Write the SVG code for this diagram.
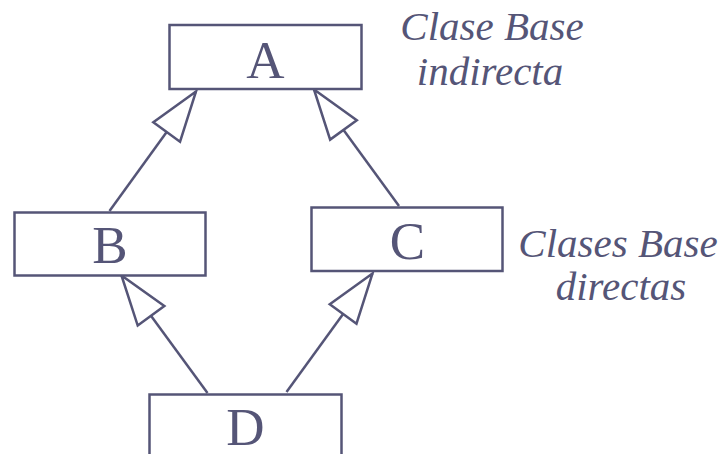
<svg xmlns="http://www.w3.org/2000/svg" width="727" height="454" viewBox="0 0 727 454">
<style>
.box{fill:#fff;stroke:#555577;stroke-width:2.5}
.lbl{font-family:'Liberation Serif','Times New Roman',serif;font-size:53px;fill:#555577;text-anchor:middle}
.note{font-family:'Liberation Serif','Times New Roman',serif;font-size:41px;font-style:italic;fill:#555577;text-anchor:middle}
.edge{stroke:#555577;stroke-width:2.5;fill:none;marker-end:url(#tri)}
</style>
<defs>
<marker id="tri" markerUnits="userSpaceOnUse" markerWidth="60" markerHeight="44" viewBox="-55 -22 60 44" refX="0" refY="0" orient="auto" overflow="visible">
<path d="M0,0 L-50,-16.5 L-50,16.5 Z" fill="#fff" stroke="#555577" stroke-width="2.5" stroke-linejoin="miter"/>
</marker>
</defs>
<rect width="727" height="454" fill="#fff"/>
<g id="connectors">
<line class="edge" x1="109.5" y1="211" x2="196" y2="91.5"/>
<line class="edge" x1="399" y1="206" x2="314" y2="89.5"/>
<line class="edge" x1="207.5" y1="393" x2="121.5" y2="275.5"/>
<line class="edge" x1="286.5" y1="392" x2="372.5" y2="273.5"/>
</g>
<g id="A">
<rect class="box" x="169.5" y="25" width="192" height="64"/>
<text class="lbl" x="265.5" y="77.5">A</text>
</g>
<g id="B">
<rect class="box" x="14.5" y="212.5" width="191" height="63"/>
<text class="lbl" x="110" y="263">B</text>
</g>
<g id="C">
<rect class="box" x="311.5" y="207.5" width="191" height="63.5"/>
<text class="lbl" x="407.5" y="258.5">C</text>
</g>
<g id="D">
<rect class="box" x="149.5" y="394.5" width="192" height="64"/>
<text class="lbl" x="245.5" y="445">D</text>
</g>
<g id="note-indirecta">
<text class="note" x="492" y="39.5">Clase Base</text>
<text class="note" x="490" y="85">indirecta</text>
</g>
<g id="note-directas">
<text class="note" x="618" y="256.5">Clases Base</text>
<text class="note" x="621" y="300">directas</text>
</g>
</svg>
